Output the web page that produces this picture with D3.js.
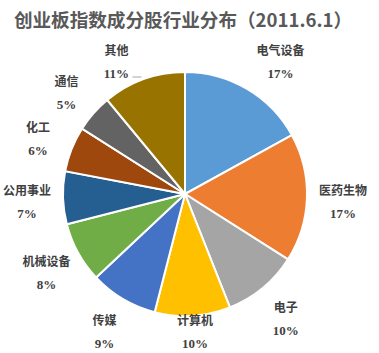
<!DOCTYPE html>
<html>
<head>
<meta charset="utf-8">
<script src="https://cdn.jsdelivr.net/npm/d3@7"></script>
<style>
  body { margin: 0; background: #fff; }
  svg { display: block; }
</style>
</head>
<body>
<div id="chart"></div>
<script>
const categories = ["电气设备", "医药生物", "电子", "计算机", "传媒", "机械设备", "公用事业", "化工", "通信", "其他"];
const shares = [17, 17, 10, 10, 9, 8, 7, 6, 5, 11];
const colors = ["#5B9BD5", "#ED7D31", "#A5A5A5", "#FFC000", "#4472C4", "#70AD47", "#255E91", "#9E480E", "#636363", "#997300"];

const width = 379, height = 353;
const cx = 185, cy = 194, radius = 122;

const svg = d3.select("#chart").append("svg")
  .attr("width", width)
  .attr("height", height);

// Title
svg.append("text")
  .attr("x", 183)
  .attr("y", 27)
  .attr("text-anchor", "middle")
  .style("font-family", "'Noto Sans CJK SC', sans-serif")
  .style("font-size", "18.6px")
  .style("font-weight", "bold")
  .style("fill", "#595959")
  .text("创业板指数成分股行业分布（2011.6.1）");

const data = categories.map((c, i) => ({ name: c, value: shares[i], color: colors[i] }));

const pie = d3.pie().sort(null).value(d => d.value);
const arc = d3.arc().innerRadius(0).outerRadius(radius);
const labelArc = d3.arc().innerRadius(158).outerRadius(158);
const arcs = pie(data);

// label position: keep inside the plot area, push sideways when clamped at top
function labelPos(d) {
  let [x, y] = labelArc.centroid(d);
  y += 3;
  if (y < -132) { y = -132; x += Math.sign(x) * 15; }
  if (y > 138) y = 138;
  return [x, y];
}

const g = svg.append("g").attr("transform", `translate(${cx},${cy})`);

g.selectAll("path")
  .data(arcs)
  .join("path")
  .attr("d", arc)
  .attr("fill", d => d.data.color)
  .attr("stroke", "#fff")
  .attr("stroke-width", 2);

// Labels
const labels = g.selectAll("g.lbl")
  .data(arcs)
  .join("g")
  .attr("class", "lbl")
  .attr("transform", d => `translate(${labelPos(d)})`)
  .style("font-family", "'Liberation Serif', 'Noto Sans CJK SC', serif")
  .style("font-weight", "bold")
  .style("font-size", "12px")
  .style("fill", "#404040")
  .attr("text-anchor", "middle");

labels.append("text")
  .attr("y", -7)
  .text(d => d.data.name);

labels.append("text")
  .attr("y", 16)
  .style("font-size", "13px")
  .text(d => d.data.value + "%");

// Leader line for the last slice
const lp = labelPos(arcs[arcs.length - 1]);
g.append("line")
  .attr("x1", lp[0] + 16)
  .attr("x2", lp[0] + 25)
  .attr("y1", lp[1] + 15)
  .attr("y2", lp[1] + 15)
  .attr("stroke", "#a6a6a6")
  .attr("stroke-width", 1);
</script>
</body>
</html>
